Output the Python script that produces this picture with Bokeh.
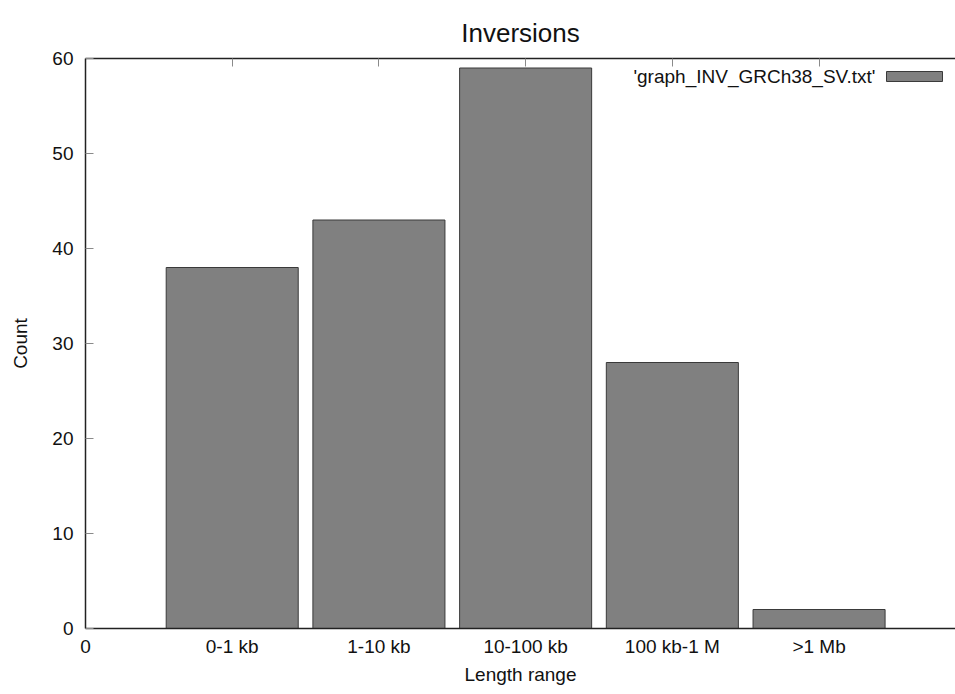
from bokeh.plotting import figure
from bokeh.models import Range1d, LinearAxis, FixedTicker, Label, ColumnDataSource, Title
from bokeh.embed import file_html
from bokeh.resources import INLINE

categories = ["0-1 kb", "1-10 kb", "10-100 kb", "100 kb-1 M", ">1 Mb"]
counts = [38, 43, 59, 28, 2]
positions = [1, 2, 3, 4, 5]
y_ticks = [0, 10, 20, 30, 40, 50, 60]
series_name = "'graph_INV_GRCh38_SV.txt'"
title_text = "Inversions"

FONT = "Liberation Sans"
FS = "19px"
BAR_FILL = "#808080"
BAR_LINE = "#3a3a3a"
AXIS_COL = "#222222"
TICK_COL = "#8a8a8a"

LEFT = 85
TOP = 58
BOTTOM = 66
W, H = 955, 694
x_end = 5.93
y_max = 60
frame_w = W - LEFT
frame_h = H - TOP - BOTTOM
px_x = x_end / frame_w
px_y = y_max / frame_h

p = figure(width=W, height=H, output_backend="svg", toolbar_location=None,
           title_location=None,
           x_range=Range1d(0, x_end), y_range=Range1d(0, y_max),
           min_border_left=LEFT, min_border_right=0, min_border_top=TOP, min_border_bottom=BOTTOM,
           x_axis_location=None, y_axis_location=None)
p.outline_line_color = None
p.grid.visible = False
p.background_fill_color = "white"
p.border_fill_color = "white"

src = ColumnDataSource(dict(x=positions, top=counts))
p.vbar(x="x", top="top", bottom=0, width=0.9, source=src,
       fill_color=BAR_FILL, line_color=BAR_LINE, line_width=1)

# bottom axis
xa = LinearAxis(ticker=FixedTicker(ticks=[0] + positions),
                major_label_overrides={0: "0", **{pos: c for pos, c in zip(positions, categories)}})
xa.axis_label = "Length range"
xa.major_tick_in = 0
xa.major_tick_out = 0
xa.minor_tick_in = 0
xa.minor_tick_out = 0
xa.axis_line_color = AXIS_COL
xa.axis_line_width = 1.5
xa.major_label_text_font = FONT
xa.major_label_text_font_size = FS
xa.major_label_text_color = "#111111"
xa.major_label_standoff = 7
xa.axis_label_text_font = FONT
xa.axis_label_text_font_size = FS
xa.axis_label_text_font_style = "normal"
xa.axis_label_text_color = "#111111"
xa.axis_label_standoff = 4
p.add_layout(xa, "below")

# top mirror axis (ticks only)
ta = LinearAxis(ticker=FixedTicker(ticks=positions))
ta.major_tick_in = 8
ta.major_tick_out = 0
ta.minor_tick_in = 0
ta.minor_tick_out = 0
ta.major_tick_line_color = TICK_COL
ta.axis_line_color = AXIS_COL
ta.axis_line_width = 1.5
ta.major_label_text_font_size = "0px"
ta.major_label_text_alpha = 0
ta.major_label_standoff = 0
p.add_layout(ta, "above")

# title, lifted well above the frame as in gnuplot
title = Title(text=title_text, align="center", offset=5, standoff=22, text_font=FONT,
              text_font_size="26px", text_font_style="normal", text_color="#111111")
p.add_layout(title, "above")

# left axis
ya = LinearAxis(ticker=FixedTicker(ticks=y_ticks))
ya.axis_label = "Count"
ya.major_tick_in = 8
ya.major_tick_out = 0
ya.minor_tick_in = 0
ya.minor_tick_out = 0
ya.major_tick_line_color = TICK_COL
ya.axis_line_color = AXIS_COL
ya.axis_line_width = 1.5
ya.major_label_text_font = FONT
ya.major_label_text_font_size = FS
ya.major_label_text_color = "#111111"
ya.major_label_standoff = 12
ya.axis_label_text_font = FONT
ya.axis_label_text_font_size = FS
ya.axis_label_text_font_style = "normal"
ya.axis_label_text_color = "#111111"
ya.axis_label_standoff = 18
p.add_layout(ya, "left")

# gnuplot-style key (label left of swatch), top-right
p.add_layout(Label(x=(875 - LEFT) * px_x, y=y_max - (76 - TOP) * px_y, text=series_name,
                   text_font=FONT, text_font_size=FS, text_align="right",
                   text_baseline="middle", text_color="#111111"))
p.quad(left=[(886 - LEFT) * px_x], right=[(942 - LEFT) * px_x],
       top=[y_max - (71 - TOP) * px_y], bottom=[y_max - (81 - TOP) * px_y],
       fill_color=BAR_FILL, line_color=BAR_LINE, line_width=1)

open("out.html", "w").write(file_html(p, INLINE))
